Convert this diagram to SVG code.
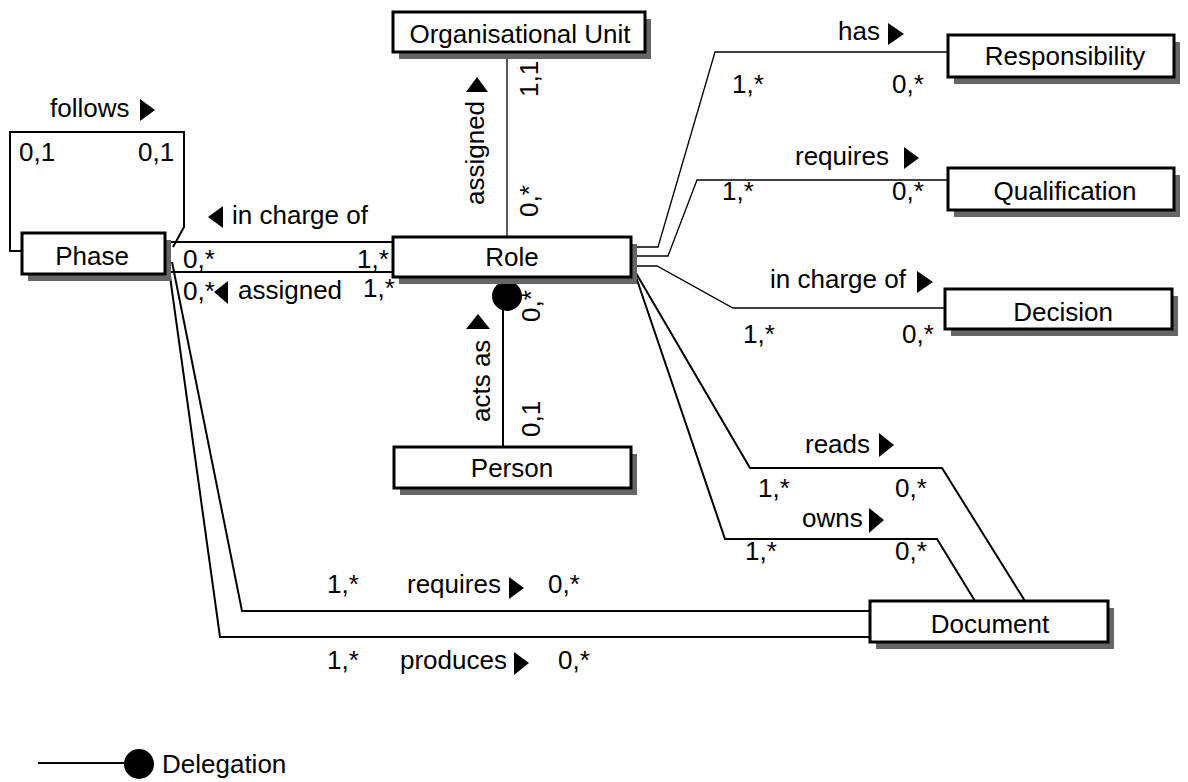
<svg xmlns="http://www.w3.org/2000/svg" width="1188" height="782" viewBox="0 0 1188 782">
  <style>
    text { font-family: "Liberation Sans", Arial, sans-serif; font-size: 26px; fill: #000; }
    .name { text-anchor: middle; }
    .box { fill: #fff; stroke: #000; stroke-width: 3; }
    .shadow { fill: #666; stroke: none; }
    .link { fill: none; stroke: #000; stroke-width: 2; }
    .thin { fill: none; stroke: #000; stroke-width: 1.3; }
    .dir { fill: #000; stroke: none; }
  </style>

  <!-- connectors -->
  <g id="connectors">
    <!-- Phase follows Phase -->
    <path class="link" d="M22,251 H10 V132 H184 V227 L173,247"/>
    <!-- Phase / Role -->
    <path class="link" d="M165,242 H393"/>
    <path class="link" d="M165,272 H393"/>
    <!-- Organisational Unit / Role -->
    <path class="thin" d="M507,52 V237"/>
    <!-- Person / Role (delegation) -->
    <path class="link" d="M503,447 V296"/>
    <circle cx="507" cy="296" r="15" fill="#000"/>
    <!-- Role / Responsibility, Qualification, Decision -->
    <path class="thin" d="M631,247 H658 L715,52 H948"/>
    <path class="thin" d="M631,256 H668 L697,180 H948"/>
    <path class="thin" d="M631,266 H657 L733,308 H945"/>
    <!-- Role / Document -->
    <path class="link" d="M633,268 L750,468 H942 L1025,601"/>
    <path class="link" d="M633,268 L725,539 H937 L975,601"/>
    <!-- Phase / Document -->
    <path class="link" d="M172,262 L242,611 H870"/>
    <path class="link" d="M168,262 L220,637 H870"/>
  </g>

  <!-- association labels -->
  <g id="labels">
    <text x="50" y="117">follows</text>
    <polygon class="dir" points="140,99 155,110 140,121"/>
    <text x="19" y="161">0,1</text>
    <text x="138" y="161">0,1</text>

    <polygon class="dir" points="208,217 223,206 223,228"/>
    <text x="232" y="224">in charge of</text>
    <text x="183" y="268">0,*</text>
    <text x="357" y="268">1,*</text>
    <text x="183" y="300">0,*</text>
    <polygon class="dir" points="214,292 228,281 228,304"/>
    <text x="238" y="299">assigned</text>
    <text x="363" y="297">1,*</text>

    <text transform="translate(484,205) rotate(-90)">assigned</text>
    <polygon class="dir" points="466,92 477,77 488,92"/>
    <text transform="translate(538,97) rotate(-90)">1,1</text>
    <text transform="translate(538,217) rotate(-90)">0,*</text>

    <text transform="translate(490,422) rotate(-90)">acts as</text>
    <polygon class="dir" points="466,329 478,314 490,329"/>
    <text transform="translate(540,322) rotate(-90)">0,*</text>
    <text transform="translate(540,437) rotate(-90)">0,1</text>

    <text x="838" y="40">has</text>
    <polygon class="dir" points="888,23 904,34 888,45"/>
    <text x="732" y="93">1,*</text>
    <text x="892" y="93">0,*</text>

    <text x="795" y="165">requires</text>
    <polygon class="dir" points="904,147 919,158 904,169"/>
    <text x="722" y="200">1,*</text>
    <text x="892" y="200">0,*</text>

    <text x="770" y="288">in charge of</text>
    <polygon class="dir" points="917,271 933,282 917,293"/>
    <text x="743" y="343">1,*</text>
    <text x="902" y="343">0,*</text>

    <text x="805" y="453">reads</text>
    <polygon class="dir" points="879,433 894,445 879,457"/>
    <text x="758" y="497">1,*</text>
    <text x="895" y="497">0,*</text>

    <text x="802" y="527">owns</text>
    <polygon class="dir" points="869,508 884,520 869,533"/>
    <text x="745" y="560">1,*</text>
    <text x="895" y="560">0,*</text>

    <text x="327" y="593">1,*</text>
    <text x="407" y="593">requires</text>
    <polygon class="dir" points="509,577 524,588 509,599"/>
    <text x="548" y="593">0,*</text>

    <text x="327" y="669">1,*</text>
    <text x="400" y="669">produces</text>
    <polygon class="dir" points="514,652 529,663 514,675"/>
    <text x="558" y="669">0,*</text>
  </g>

  <!-- nodes -->
  <g id="phase">
    <rect class="shadow" x="28" y="240" width="143" height="41"/>
    <rect class="box" x="22" y="233" width="143" height="41"/>
    <text class="name" x="92" y="265">Phase</text>
  </g>
  <g id="organisational-unit">
    <rect class="shadow" x="399" y="19" width="252" height="40"/>
    <rect class="box" x="393" y="12" width="252" height="40"/>
    <text class="name" x="520" y="43">Organisational Unit</text>
  </g>
  <g id="role">
    <rect class="shadow" x="399" y="244" width="238" height="40"/>
    <rect class="box" x="393" y="237" width="238" height="40"/>
    <text class="name" x="512" y="266">Role</text>
  </g>
  <g id="person">
    <rect class="shadow" x="400" y="454" width="237" height="41"/>
    <rect class="box" x="394" y="447" width="237" height="41"/>
    <text class="name" x="512" y="477">Person</text>
  </g>
  <g id="responsibility">
    <rect class="shadow" x="954" y="42" width="226" height="42"/>
    <rect class="box" x="948" y="35" width="226" height="42"/>
    <text class="name" x="1065" y="65">Responsibility</text>
  </g>
  <g id="qualification">
    <rect class="shadow" x="954" y="175" width="226" height="42"/>
    <rect class="box" x="948" y="168" width="226" height="42"/>
    <text class="name" x="1065" y="200">Qualification</text>
  </g>
  <g id="decision">
    <rect class="shadow" x="951" y="296" width="227" height="40"/>
    <rect class="box" x="945" y="289" width="227" height="40"/>
    <text class="name" x="1063" y="321">Decision</text>
  </g>
  <g id="document">
    <rect class="shadow" x="876" y="608" width="238" height="41"/>
    <rect class="box" x="870" y="601" width="238" height="41"/>
    <text class="name" x="990" y="633">Document</text>
  </g>

  <!-- legend -->
  <g id="legend">
    <path class="link" d="M38,763 H125"/>
    <circle cx="139" cy="764" r="15" fill="#000"/>
    <text x="162" y="773">Delegation</text>
  </g>
</svg>
